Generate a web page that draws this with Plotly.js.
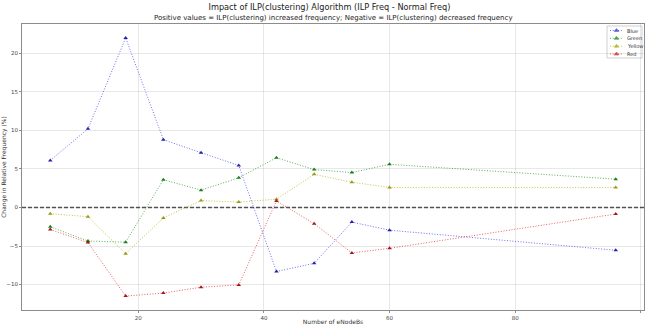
<!DOCTYPE html>
<html>
<head>
<meta charset="utf-8">
<script src="https://cdn.plot.ly/plotly-3.0.1.min.js"></script>
<style>html,body{margin:0;padding:0;background:#fff;}#chart{width:646px;height:325px;}</style>
</head>
<body>
<div id="chart"></div>
<script>
const enodebs = [6, 12, 18, 24, 30, 36, 42, 48, 54, 60, 96];
const blueVals   = [6.1, 10.2, 22.0, 8.8, 7.1, 5.45, -8.3, -7.25, -1.9, -2.95, -5.55];
const greenVals  = [-2.5, -4.35, -4.5, 3.6, 2.25, 3.85, 6.45, 4.92, 4.53, 5.6, 3.67];
const yellowVals = [-0.8, -1.2, -6.0, -1.35, 0.9, 0.7, 1.07, 4.3, 3.28, 2.6, 2.6];
const redVals    = [-2.85, -4.55, -11.5, -11.1, -10.35, -10.05, 0.85, -2.1, -5.9, -5.3, -0.85];

const seriesNames = ['Blue', 'Green', 'Yellow', 'Red'];
const seriesVals = [blueVals, greenVals, yellowVals, redVals];
const lineColors = ['rgba(50,50,230,0.7)', 'rgba(20,140,20,0.7)', 'rgba(175,175,10,0.75)', 'rgba(220,30,30,0.7)'];
const markerColors = ['#2222aa', '#1a7f1a', '#9a9a10', '#aa1515'];

const xTicks = [20, 40, 60, 80, 100];
const yTicks = [-10, -5, 0, 5, 10, 15, 20];

const dotDash = '1px,1.7px';

const traces = seriesNames.map((name, i) => ({
  x: enodebs,
  y: seriesVals[i],
  name: name,
  type: 'scatter',
  mode: 'lines+markers',
  showlegend: false,
  line: {color: lineColors[i], width: 1, dash: dotDash},
  marker: {symbol: 'triangle-up', size: 4, color: markerColors[i]}
}));

// Compact legend drawn on an overlay axis measured in plot pixels
const legRowY = [6.5, 14.3, 22.2, 30];
seriesNames.forEach((name, i) => {
  traces.push({
    x: [588, 594.5, 601], y: [legRowY[i], legRowY[i], legRowY[i]],
    xaxis: 'x2', yaxis: 'y2', type: 'scatter', mode: 'lines+markers', showlegend: false,
    line: {color: lineColors[i], width: 1, dash: dotDash},
    marker: {symbol: 'triangle-up', size: [0, 4, 0], color: markerColors[i]}
  });
});

const font = 'DejaVu Sans, sans-serif';
const annotations = [{text: 'Positive values = ILP(clustering) increased frequency; Negative = ILP(clustering) decreased frequency',
                 xref: 'paper', yref: 'paper', x: 0.5, y: 1, yanchor: 'bottom', yshift: 0,
                 showarrow: false, font: {family: font, size: 7, color: '#222'}}];
seriesNames.forEach((name, i) => {
  annotations.push({text: name, xref: 'x2', yref: 'y2', x: 603, y: legRowY[i], xanchor: 'left', yanchor: 'middle',
                    showarrow: false, font: {family: font, size: 5, color: '#333'}});
});

const layout = {
  width: 646, height: 325,
  margin: {l: 22, r: 2, t: 24, b: 15, pad: 0},
  paper_bgcolor: '#fff', plot_bgcolor: '#fff',
  font: {family: font, size: 6, color: '#333'},
  showlegend: false,
  title: {text: 'Impact of ILP(clustering) Algorithm (ILP Freq - Normal Freq)',
          font: {family: font, size: 8.2, color: '#222'},
          x: 0.51, xanchor: 'center', y: 0.978, yanchor: 'middle', yref: 'container'},
  xaxis: {
    range: [1.5, 100.5], tickvals: xTicks, ticktext: xTicks.map(String),
    showgrid: true, gridcolor: 'rgba(0,0,0,0.09)', gridwidth: 1,
    zeroline: false, showline: true, linecolor: '#8c8c8c', linewidth: 1, mirror: true,
    ticks: 'outside', ticklen: 2, tickcolor: '#8c8c8c',
    tickfont: {family: font, size: 5.5, color: '#444'}, automargin: false,
    title: {text: 'Number of eNodeBs', font: {family: font, size: 6, color: '#333'}, standoff: 0}
  },
  yaxis: {
    range: [-13.3, 23.8], tickvals: yTicks, ticktext: yTicks.map(v => v < 0 ? '\u2212' + Math.abs(v) : String(v)),
    showgrid: true, gridcolor: 'rgba(0,0,0,0.09)', gridwidth: 1,
    zeroline: false, showline: true, linecolor: '#8c8c8c', linewidth: 1, mirror: true,
    ticks: 'outside', ticklen: 2, tickcolor: '#8c8c8c',
    tickfont: {family: font, size: 5.5, color: '#444'}, automargin: false,
    title: {text: 'Change in Relative Frequency (%)', font: {family: font, size: 6, color: '#333'}, standoff: 3}
  },
  xaxis2: {overlaying: 'x', range: [0, 622], visible: false, fixedrange: true},
  yaxis2: {overlaying: 'y', range: [286, 0], visible: false, fixedrange: true},
  shapes: [
    {type: 'line', xref: 'paper', x0: 0, x1: 1, yref: 'y', y0: 0, y1: 0,
     line: {color: 'rgba(0,0,0,0.65)', width: 1.5, dash: '4px,2px'}, layer: 'below'},
    {type: 'rect', xref: 'x2', yref: 'y2', x0: 585, x1: 620, y0: 2, y1: 34,
     fillcolor: 'rgba(255,255,255,0.85)', line: {color: '#d0d0d0', width: 1}, layer: 'below'}
  ],
  annotations: annotations
};

Plotly.newPlot('chart', traces, layout, {displayModeBar: false, staticPlot: true});
</script>
</body>
</html>
